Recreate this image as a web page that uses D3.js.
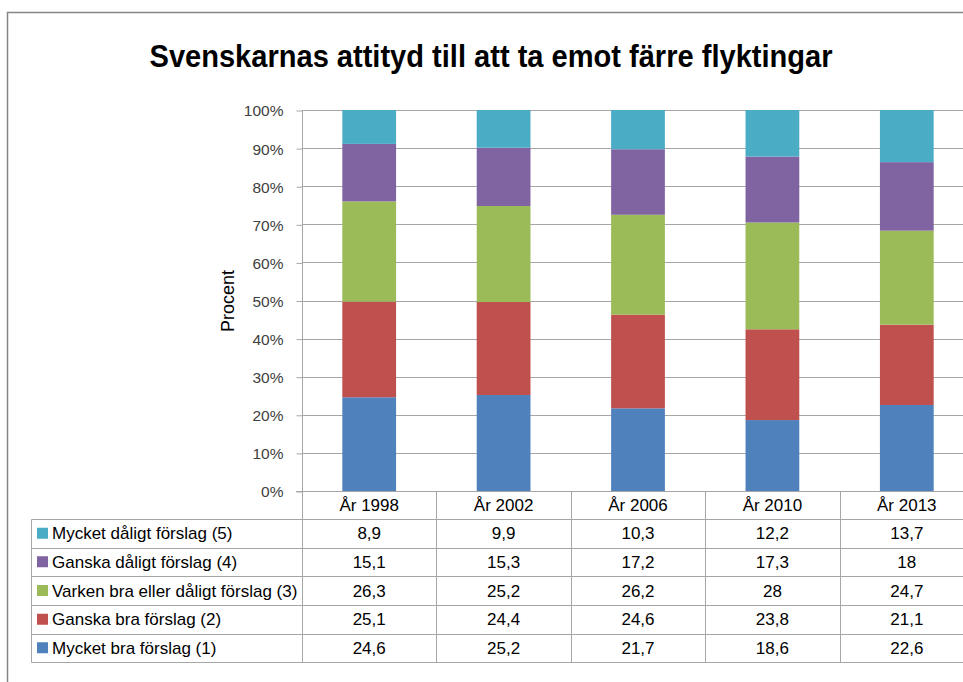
<!DOCTYPE html>
<html><head><meta charset="utf-8">
<script src="https://cdn.jsdelivr.net/npm/d3@7"></script>
<style>html,body{margin:0;padding:0;background:#fff;}svg{display:block;}</style>
</head><body>
<svg id="chart" width="963" height="682"></svg>
<script>
const categories = ["År 1998", "År 2002", "År 2006", "År 2010", "År 2013"];
const seriesNames = [
  "Mycket bra förslag (1)",
  "Ganska bra förslag (2)",
  "Varken bra eller dåligt förslag (3)",
  "Ganska dåligt förslag (4)",
  "Mycket dåligt förslag (5)"
];
const mycketBra    = [24.6, 25.2, 21.7, 18.6, 22.6];
const ganskaBra    = [25.1, 24.4, 24.6, 23.8, 21.1];
const varken       = [26.3, 25.2, 26.2, 28, 24.7];
const ganskaDaligt = [15.1, 15.3, 17.2, 17.3, 18];
const mycketDaligt = [8.9, 9.9, 10.3, 12.2, 13.7];
const seriesValues = [mycketBra, ganskaBra, varken, ganskaDaligt, mycketDaligt];
const colors = ["#4F81BD", "#C0504D", "#9BBB59", "#8064A2", "#4BACC6"];
const yTicks = [0, 0.1, 0.2, 0.3, 0.4, 0.5, 0.6, 0.7, 0.8, 0.9, 1];
const title = "Svenskarnas attityd till att ta emot färre flyktingar";

const svg = d3.select("#chart");
const FONT = "'Liberation Sans', Arial, sans-serif";
const TFS = 17;

// chart border
svg.append("rect").attr("x", 7.5).attr("y", 12.5).attr("width", 1000).attr("height", 800)
  .attr("fill", "#fff").attr("stroke", "#868686").attr("stroke-width", 1.5);

function fitText(sel, target) {
  const w = sel.node().getComputedTextLength();
  if (w > 0) sel.attr("textLength", target).attr("lengthAdjust", "spacingAndGlyphs");
}

// title
const t = svg.append("text").attr("x", 491).attr("y", 67).attr("text-anchor", "middle")
  .attr("font-family", FONT).attr("font-weight", "bold").attr("font-size", 31).attr("fill", "#000")
  .text(title);
fitText(t, 683);

// scales
const rows = categories.map((c, i) => {
  const o = {cat: c};
  seriesNames.forEach((s, j) => o[s] = seriesValues[j][i]);
  return o;
});
const stack = d3.stack().keys(seriesNames).offset(d3.stackOffsetExpand)(rows);

const x = d3.scaleBand().domain(categories).range([302, 974]).paddingInner(0.6).paddingOuter(0.3);
const y = d3.scaleLinear().domain([0, 1]).range([491, 110]);

// gridlines
svg.append("g").selectAll("line").data(yTicks.slice(1)).join("line")
  .attr("x1", 302).attr("x2", 974)
  .attr("y1", d => Math.round(y(d)) + 0.5).attr("y2", d => Math.round(y(d)) + 0.5)
  .attr("stroke", "#a6a6a6").attr("stroke-width", 1);

// bars
svg.append("g").selectAll("g").data(stack).join("g")
  .attr("fill", (d, i) => colors[i])
  .selectAll("rect").data(d => d).join("rect")
  .attr("x", d => x(d.data.cat))
  .attr("width", x.bandwidth())
  .attr("y", d => y(d[1]))
  .attr("height", d => y(d[0]) - y(d[1]));

// y axis
const yAxis = d3.axisLeft(y).tickValues(yTicks).tickFormat(d3.format(".0%")).tickSize(6).tickPadding(13);
const ga = svg.append("g").attr("transform", "translate(302.5,0.5)").call(yAxis);
ga.selectAll(".tick line").attr("stroke", "#a6a6a6");
ga.selectAll(".tick text").attr("font-family", FONT).attr("font-size", 15.5).attr("fill", "#404040").attr("dy", "0.35em");
ga.select(".domain").remove();
svg.append("line").attr("x1", 302.5).attr("x2", 302.5).attr("y1", 110).attr("y2", 662)
  .attr("stroke", "#a6a6a6");
svg.append("line").attr("x1", 296).attr("x2", 974).attr("y1", 491.5).attr("y2", 491.5)
  .attr("stroke", "#a6a6a6");

// y label
svg.append("text").attr("transform", "translate(234,301) rotate(-90)").attr("text-anchor", "middle")
  .attr("font-family", FONT).attr("font-size", 18).attr("fill", "#000").text("Procent");

// data table
const rowTop = [519, 547.5, 576, 605, 633.5];
const rowBottom = 662;
const tableLeft = 31.5;
const tableRight = 974;
const tbl = svg.append("g");
[...rowTop, rowBottom].forEach(yy => {
  tbl.append("line").attr("x1", tableLeft).attr("x2", tableRight).attr("y1", Math.round(yy) + 0.5).attr("y2", Math.round(yy) + 0.5)
    .attr("stroke", "#a6a6a6");
});
tbl.append("line").attr("x1", tableLeft).attr("x2", tableLeft).attr("y1", 519.5).attr("y2", 662.5).attr("stroke", "#a6a6a6");
categories.forEach(c => {
  const xe = x(c) + x.bandwidth() / 2 + x.step() / 2;
  tbl.append("line").attr("x1", Math.round(xe) + 0.5).attr("x2", Math.round(xe) + 0.5).attr("y1", 491).attr("y2", 662.5)
    .attr("stroke", "#a6a6a6");
});
tbl.selectAll("text.hdr").data(categories).join("text").attr("class", "hdr")
  .attr("x", d => x(d) + x.bandwidth() / 2).attr("y", 511).attr("text-anchor", "middle")
  .attr("font-family", FONT).attr("font-size", TFS).attr("fill", "#000").text(d => d);
const order = [4, 3, 2, 1, 0];
order.forEach((si, r) => {
  const top = rowTop[r];
  const bot = r < 4 ? rowTop[r + 1] : rowBottom;
  const cy = (top + bot) / 2;
  tbl.append("rect").attr("x", 37).attr("y", cy - 5.5).attr("width", 11).attr("height", 11).attr("fill", colors[si]);
  tbl.append("text").attr("x", 52).attr("y", cy + 6).attr("font-family", FONT).attr("font-size", TFS)
    .attr("fill", "#000").text(seriesNames[si]);
  tbl.selectAll(null).data(seriesValues[si]).join("text")
    .attr("x", (d, i) => x(categories[i]) + x.bandwidth() / 2).attr("y", cy + 6)
    .attr("text-anchor", "middle").attr("font-family", FONT).attr("font-size", TFS).attr("fill", "#000")
    .text(d => String(d).replace(".", ","));
});
</script>
</body></html>
